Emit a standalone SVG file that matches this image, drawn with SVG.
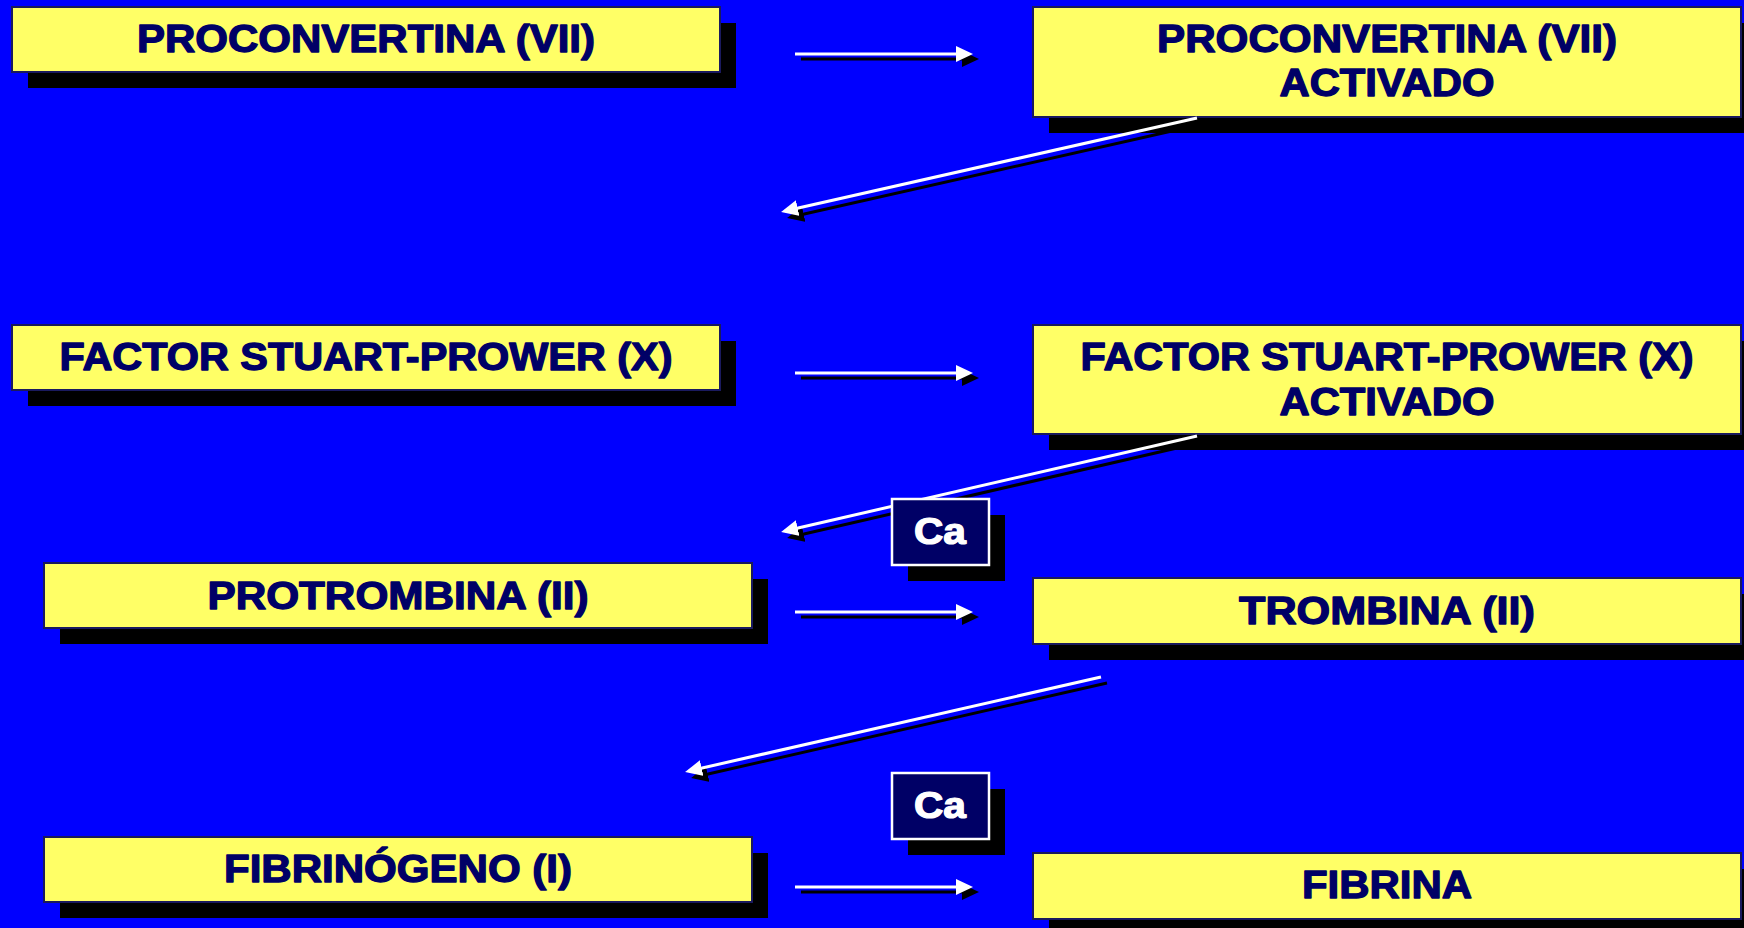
<svg xmlns="http://www.w3.org/2000/svg" width="1744" height="928" viewBox="0 0 1744 928">
  <defs>
    <style>
      .shadow { fill: #000000; }
      .box { fill: #FFFF66; stroke: #1a1a5e; stroke-width: 2; }
      .lbl { font-family: "Liberation Sans", Arial, sans-serif; font-weight: bold; font-size: 38px; fill: #000066; stroke: #000066; stroke-width: 1.3; stroke-linejoin: round; text-anchor: middle; }
      .cabox { fill: #000066; stroke: #FFFFFF; stroke-width: 2.5; }
      .ca { font-family: "Liberation Sans", Arial, sans-serif; font-weight: bold; font-size: 36px; fill: #FFFFFF; stroke: #FFFFFF; stroke-width: 1.2; stroke-linejoin: round; text-anchor: middle; }
      .lnW { stroke: #FFFFFF; stroke-width: 3; fill: none; marker-end: url(#headW); }
      .lnK { stroke: #000000; stroke-width: 3; fill: none; marker-end: url(#headK); }
    </style>
    <marker id="headW" markerUnits="userSpaceOnUse" markerWidth="17" markerHeight="16" viewBox="0 0 17 16" refX="13" refY="8" orient="auto">
      <path d="M0,0 L17,8 L0,16 z" fill="#FFFFFF"/>
    </marker>
    <marker id="headK" markerUnits="userSpaceOnUse" markerWidth="17" markerHeight="16" viewBox="0 0 17 16" refX="13" refY="8" orient="auto">
      <path d="M0,0 L17,8 L0,16 z" fill="#000000"/>
    </marker>
  </defs>

  <rect x="0" y="0" width="1744" height="928" fill="#0000FF"/>

  <g id="n-proconvertina">
    <rect class="shadow" x="28" y="23" width="708" height="65"/>
    <rect class="box" x="12" y="7" width="708" height="65"/>
    <text class="lbl" x="366" y="52" textLength="458" lengthAdjust="spacingAndGlyphs">PROCONVERTINA (VII)</text>
  </g>

  <g id="n-proconvertina-activado">
    <rect class="shadow" x="1049" y="23" width="708" height="110"/>
    <rect class="box" x="1033" y="7" width="708" height="110"/>
    <text class="lbl" x="1387" y="52" textLength="460" lengthAdjust="spacingAndGlyphs">PROCONVERTINA (VII)</text>
    <text class="lbl" x="1387" y="96" textLength="215" lengthAdjust="spacingAndGlyphs">ACTIVADO</text>
  </g>

  <g id="n-factor-x">
    <rect class="shadow" x="28" y="341" width="708" height="65"/>
    <rect class="box" x="12" y="325" width="708" height="65"/>
    <text class="lbl" x="366" y="370" textLength="613" lengthAdjust="spacingAndGlyphs">FACTOR STUART-PROWER (X)</text>
  </g>

  <g id="n-factor-x-activado">
    <rect class="shadow" x="1049" y="341" width="708" height="109"/>
    <rect class="box" x="1033" y="325" width="708" height="109"/>
    <text class="lbl" x="1387" y="370" textLength="613" lengthAdjust="spacingAndGlyphs">FACTOR STUART-PROWER (X)</text>
    <text class="lbl" x="1387" y="415" textLength="215" lengthAdjust="spacingAndGlyphs">ACTIVADO</text>
  </g>

  <g id="n-protrombina">
    <rect class="shadow" x="60" y="579" width="708" height="65"/>
    <rect class="box" x="44" y="563" width="708" height="65"/>
    <text class="lbl" x="398" y="609" textLength="381" lengthAdjust="spacingAndGlyphs">PROTROMBINA (II)</text>
  </g>

  <g id="n-trombina">
    <rect class="shadow" x="1049" y="594" width="708" height="66"/>
    <rect class="box" x="1033" y="578" width="708" height="66"/>
    <text class="lbl" x="1387" y="624" textLength="296" lengthAdjust="spacingAndGlyphs">TROMBINA (II)</text>
  </g>

  <g id="n-fibrinogeno">
    <rect class="shadow" x="60" y="853" width="708" height="65"/>
    <rect class="box" x="44" y="837" width="708" height="65"/>
    <text class="lbl" x="398" y="882" textLength="348" lengthAdjust="spacingAndGlyphs">FIBRINÓGENO (I)</text>
  </g>

  <g id="n-fibrina">
    <rect class="shadow" x="1049" y="869" width="708" height="66"/>
    <rect class="box" x="1033" y="853" width="708" height="66"/>
    <text class="lbl" x="1387" y="898" textLength="170" lengthAdjust="spacingAndGlyphs">FIBRINA</text>
  </g>

  <g id="connectors">
    <line class="lnK" x1="801" y1="59" x2="975" y2="59"/>
    <line class="lnW" x1="795" y1="54" x2="969" y2="54"/>

    <line class="lnK" x1="801" y1="378" x2="975" y2="378"/>
    <line class="lnW" x1="795" y1="373" x2="969" y2="373"/>

    <line class="lnK" x1="801" y1="617" x2="975" y2="617"/>
    <line class="lnW" x1="795" y1="612" x2="969" y2="612"/>

    <line class="lnK" x1="801" y1="892" x2="975" y2="892"/>
    <line class="lnW" x1="795" y1="887" x2="969" y2="887"/>

    <line class="lnK" x1="1203" y1="124" x2="791" y2="217"/>
    <line class="lnW" x1="1197" y1="118" x2="785" y2="211"/>

    <line class="lnK" x1="1203" y1="442" x2="791" y2="537"/>
    <line class="lnW" x1="1197" y1="436" x2="785" y2="531"/>

    <line class="lnK" x1="1107" y1="683" x2="695" y2="777"/>
    <line class="lnW" x1="1101" y1="677" x2="689" y2="771"/>
  </g>

  <g id="n-ca1">
    <rect class="shadow" x="908" y="515" width="97" height="66"/>
    <rect class="cabox" x="892" y="499" width="97" height="66"/>
    <text class="ca" x="940" y="544" textLength="52" lengthAdjust="spacingAndGlyphs">Ca</text>
  </g>

  <g id="n-ca2">
    <rect class="shadow" x="908" y="789" width="97" height="66"/>
    <rect class="cabox" x="892" y="773" width="97" height="66"/>
    <text class="ca" x="940" y="818" textLength="52" lengthAdjust="spacingAndGlyphs">Ca</text>
  </g>
</svg>
